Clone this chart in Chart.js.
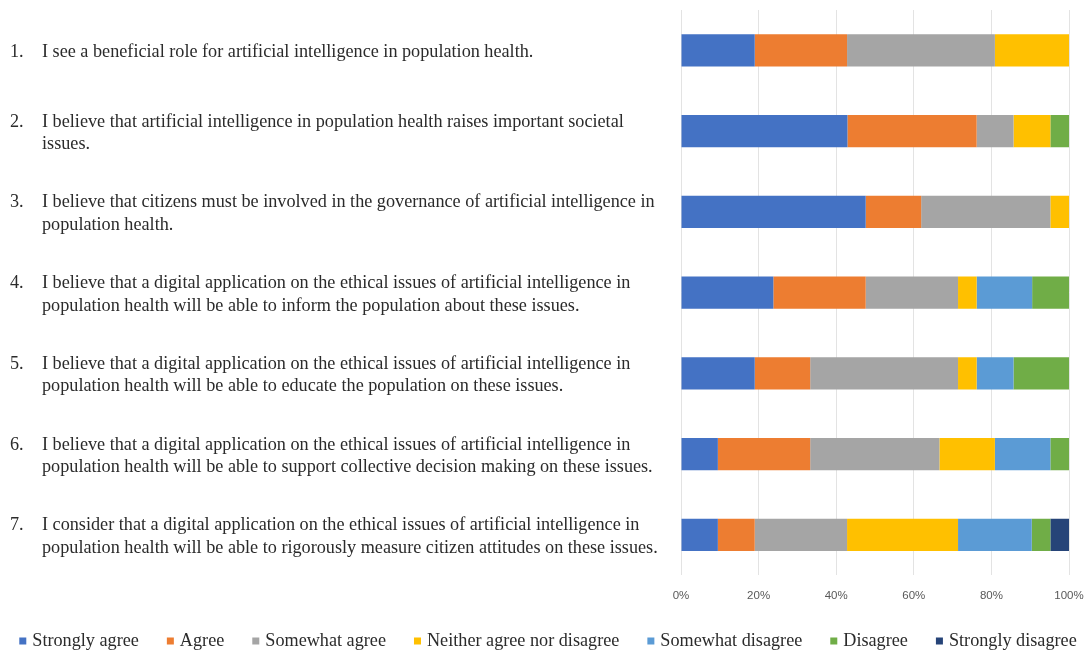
<!DOCTYPE html>
<html>
<head>
<meta charset="utf-8">
<script src="https://cdn.jsdelivr.net/npm/chart.js@4"></script>
<style>
  html, body { margin: 0; padding: 0; background: #fff; }
  #wrap { width: 1089px; height: 653px; }
</style>
</head>
<body>
<div id="wrap"><canvas id="surveyChart"></canvas></div>
<script>
// questions (number + wrapped lines)
const questionNumbers = ['1.', '2.', '3.', '4.', '5.', '6.', '7.'];
const questionLines = [
  ['I see a beneficial role for artificial intelligence in population health.'],
  ['I believe that artificial intelligence in population health raises important societal', 'issues.'],
  ['I believe that citizens must be involved in the governance of artificial intelligence in', 'population health.'],
  ['I believe that a digital application on the ethical issues of artificial intelligence in', 'population health will be able to inform the population about these issues.'],
  ['I believe that a digital application on the ethical issues of artificial intelligence in', 'population health will be able to educate the population on these issues.'],
  ['I believe that a digital application on the ethical issues of artificial intelligence in', 'population health will be able to support collective decision making on these issues.'],
  ['I consider that a digital application on the ethical issues of artificial intelligence in', 'population health will be able to rigorously measure citizen attitudes on these issues.']
];

// percentage of answers per question
const stronglyAgree    = [19.0, 42.9, 47.6, 23.8, 19.0,  9.5,  9.5];
const agree            = [23.8, 33.3, 14.3, 23.8, 14.3, 23.8,  9.5];
const somewhatAgree    = [38.1,  9.5, 33.3, 23.8, 38.1, 33.3, 23.8];
const neither          = [19.1,  9.5,  4.8,  4.8,  4.8, 14.3, 28.6];
const somewhatDisagree = [ 0,    0,    0,   14.3,  9.5, 14.3, 19.0];
const disagree         = [ 0,    4.8,  0,    9.5, 14.3,  4.8,  4.8];
const stronglyDisagree = [ 0,    0,    0,    0,    0,    0,    4.8];

const xTicks = [0, 20, 40, 60, 80, 100];

const seriesNames = ['Strongly agree', 'Agree', 'Somewhat agree', 'Neither agree nor disagree',
  'Somewhat disagree', 'Disagree', 'Strongly disagree'];
const seriesData = [stronglyAgree, agree, somewhatAgree, neither, somewhatDisagree, disagree, stronglyDisagree];
const seriesColors = ['#4472C4', '#ED7D31', '#A5A5A5', '#FFC000', '#5B9BD5', '#70AD47', '#264478'];

const serif = '"Liberation Serif", "Times New Roman", serif';
const textColor = '#2b2b2b';

// draws the question text to the left of each bar
const questionLabels = {
  id: 'questionLabels',
  afterDraw(chart) {
    const ctx = chart.ctx;
    const yScale = chart.scales.y;
    ctx.save();
    ctx.font = '18.2px ' + serif;
    ctx.fillStyle = textColor;
    ctx.textBaseline = 'middle';
    ctx.textAlign = 'left';
    const lineH = 22.5;
    questionLines.forEach((lines, i) => {
      const cy = yScale.getPixelForValue(i) + 2;
      const startY = cy - (lines.length - 1) * lineH / 2;
      ctx.fillText(questionNumbers[i], 10, startY);
      lines.forEach((line, j) => {
        ctx.fillText(line, 42, startY + j * lineH);
      });
    });
    ctx.restore();
  }
};

// single-row legend under the axis
const bottomLegend = {
  id: 'bottomLegend',
  afterDraw(chart) {
    const ctx = chart.ctx;
    ctx.save();
    ctx.font = '18.2px ' + serif;
    ctx.textBaseline = 'middle';
    ctx.textAlign = 'left';
    const box = 7, gap = 6, spacing = 28;
    const items = chart.data.datasets.map(ds => ({
      text: ds.label, color: ds.backgroundColor, w: box + gap + ctx.measureText(ds.label).width
    }));
    const total = items.reduce((s, it) => s + it.w, 0) + spacing * (items.length - 1);
    let x = 548 - total / 2;
    const y = 641;
    items.forEach(it => {
      ctx.fillStyle = it.color;
      ctx.fillRect(x, y - box / 2, box, box);
      ctx.fillStyle = textColor;
      ctx.fillText(it.text, x + box + gap, y);
      x += it.w + spacing;
    });
    ctx.restore();
  }
};

const ctx = document.getElementById('surveyChart').getContext('2d');
new Chart(ctx, {
  type: 'bar',
  data: {
    labels: questionNumbers,
    datasets: seriesNames.map((name, i) => ({
      label: name,
      data: seriesData[i],
      backgroundColor: seriesColors[i],
      borderWidth: 0,
      barPercentage: 0.4,
      categoryPercentage: 1.0
    }))
  },
  options: {
    indexAxis: 'y',
    responsive: true,
    maintainAspectRatio: false,
    animation: false,
    layout: { padding: { top: 10, right: 20, bottom: 36, left: 0 } },
    plugins: {
      legend: { display: false },
      tooltip: { enabled: false }
    },
    scales: {
      x: {
        stacked: true,
        min: 0,
        max: 100,
        afterBuildTicks: axis => { axis.ticks = xTicks.map(v => ({ value: v })); },
        afterFit: scale => { scale.paddingLeft = 0; scale.paddingRight = 0; },
        ticks: {
          callback: v => v + '%',
          color: '#595959',
          font: { family: '"Liberation Sans", Arial, sans-serif', size: 11.5 },
          padding: 14
        },
        grid: { color: '#e3e3e3', drawTicks: false },
        border: { display: false }
      },
      y: {
        stacked: true,
        afterFit: scale => { scale.width = 681; },
        ticks: { display: false },
        grid: { display: false },
        border: { display: false }
      }
    }
  },
  plugins: [questionLabels, bottomLegend]
});
</script>
</body>
</html>
